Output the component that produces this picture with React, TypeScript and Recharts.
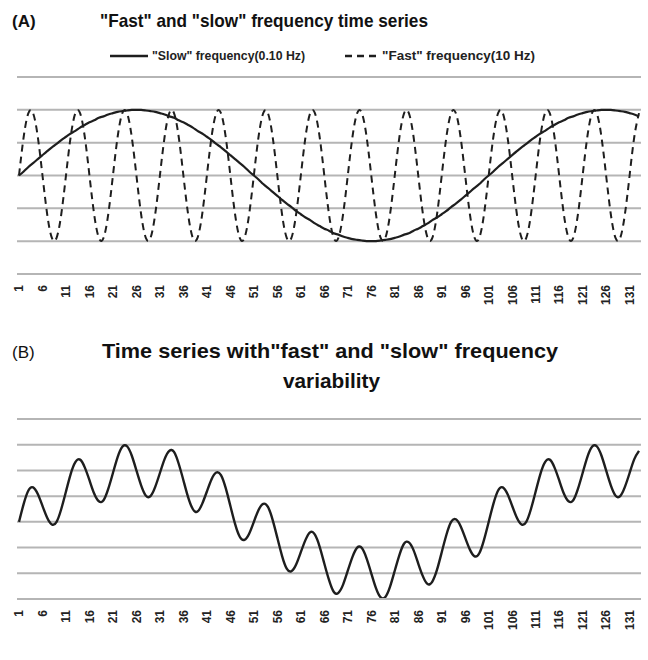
import { LineChart, Line, XAxis, YAxis, CartesianGrid } from "recharts";

// sample index shown on the x axis (1..133)
const samples = Array.from({ length: 133 }, (_, i) => i + 1);

// "slow" wave, one value per sample
const slowWave = [
  0, 0.06, 0.13, 0.19, 0.25, 0.31, 0.37, 0.43, 0.48, 0.54,
  0.59, 0.64, 0.68, 0.73, 0.77, 0.81, 0.84, 0.88, 0.9, 0.93,
  0.95, 0.97, 0.98, 0.99, 1, 1, 1, 0.99, 0.98, 0.97,
  0.95, 0.93, 0.9, 0.88, 0.84, 0.81, 0.77, 0.73, 0.68, 0.64,
  0.59, 0.54, 0.48, 0.43, 0.37, 0.31, 0.25, 0.19, 0.13, 0.06,
  0, -0.06, -0.13, -0.19, -0.25, -0.31, -0.37, -0.43, -0.48, -0.54,
  -0.59, -0.64, -0.68, -0.73, -0.77, -0.81, -0.84, -0.88, -0.9, -0.93,
  -0.95, -0.97, -0.98, -0.99, -1, -1, -1, -0.99, -0.98, -0.97,
  -0.95, -0.93, -0.9, -0.88, -0.84, -0.81, -0.77, -0.73, -0.68, -0.64,
  -0.59, -0.54, -0.48, -0.43, -0.37, -0.31, -0.25, -0.19, -0.13, -0.06,
  0, 0.06, 0.13, 0.19, 0.25, 0.31, 0.37, 0.43, 0.48, 0.54,
  0.59, 0.64, 0.68, 0.73, 0.77, 0.81, 0.84, 0.88, 0.9, 0.93,
  0.95, 0.97, 0.98, 0.99, 1, 1, 1, 0.99, 0.98, 0.97,
  0.95, 0.93, 0.9,
];

// "fast" wave
const fastWave = [
  0, 0.59, 0.95, 0.95, 0.59, 0, -0.59, -0.95, -0.95, -0.59,
  0, 0.59, 0.95, 0.95, 0.59, 0, -0.59, -0.95, -0.95, -0.59,
  0, 0.59, 0.95, 0.95, 0.59, 0, -0.59, -0.95, -0.95, -0.59,
  0, 0.59, 0.95, 0.95, 0.59, 0, -0.59, -0.95, -0.95, -0.59,
  0, 0.59, 0.95, 0.95, 0.59, 0, -0.59, -0.95, -0.95, -0.59,
  0, 0.59, 0.95, 0.95, 0.59, 0, -0.59, -0.95, -0.95, -0.59,
  0, 0.59, 0.95, 0.95, 0.59, 0, -0.59, -0.95, -0.95, -0.59,
  0, 0.59, 0.95, 0.95, 0.59, 0, -0.59, -0.95, -0.95, -0.59,
  0, 0.59, 0.95, 0.95, 0.59, 0, -0.59, -0.95, -0.95, -0.59,
  0, 0.59, 0.95, 0.95, 0.59, 0, -0.59, -0.95, -0.95, -0.59,
  0, 0.59, 0.95, 0.95, 0.59, 0, -0.59, -0.95, -0.95, -0.59,
  0, 0.59, 0.95, 0.95, 0.59, 0, -0.59, -0.95, -0.95, -0.59,
  0, 0.59, 0.95, 0.95, 0.59, 0, -0.59, -0.95, -0.95, -0.59,
  0, 0.59, 0.95,
];

// panel B: series with both frequencies
const mixedWave = [
  0, 0.35, 0.61, 0.67, 0.54, 0.31, 0.08, -0.05, 0, 0.25,
  0.59, 0.93, 1.16, 1.21, 1.06, 0.81, 0.55, 0.4, 0.42, 0.64,
  0.95, 1.26, 1.46, 1.47, 1.29, 1, 0.71, 0.51, 0.5, 0.68,
  0.95, 1.22, 1.38, 1.36, 1.13, 0.81, 0.48, 0.25, 0.2, 0.35,
  0.59, 0.83, 0.96, 0.91, 0.66, 0.31, -0.04, -0.29, -0.35, -0.23,
  0, 0.23, 0.35, 0.29, 0.04, -0.31, -0.66, -0.91, -0.96, -0.83,
  -0.59, -0.35, -0.2, -0.25, -0.48, -0.81, -1.13, -1.36, -1.38, -1.22,
  -0.95, -0.68, -0.5, -0.51, -0.71, -1, -1.29, -1.47, -1.46, -1.26,
  -0.95, -0.64, -0.42, -0.4, -0.55, -0.81, -1.06, -1.21, -1.16, -0.93,
  -0.59, -0.25, 0, 0.05, -0.08, -0.31, -0.54, -0.67, -0.61, -0.35,
  0, 0.35, 0.61, 0.67, 0.54, 0.31, 0.08, -0.05, 0, 0.25,
  0.59, 0.93, 1.16, 1.21, 1.06, 0.81, 0.55, 0.4, 0.42, 0.64,
  0.95, 1.26, 1.46, 1.47, 1.29, 1, 0.71, 0.51, 0.5, 0.68,
  0.95, 1.22, 1.38,
];

const ticksA = [-1.5, -1, -0.5, 0, 0.5, 1, 1.5];
const ticksB = [-1.5, -1, -0.5, 0, 0.5, 1, 1.5, 2];

const dataA = samples.map((s, i) => ({ t: s, slow: slowWave[i], fast: fastWave[i] }));
const dataB = samples.map((s, i) => ({ t: s, mixed: mixedWave[i] }));

const GRID = "#b5b5b5";
const INK = "#1e1e1e";
const NARROW = "'Liberation Sans Narrow', 'Arial Narrow', 'Liberation Sans', Arial, sans-serif";

const RotatedTick = (props: any) => {
  const { x, y, payload } = props;
  return (
    <g transform={`translate(${x},${y})`}>
      <text
        transform="rotate(-90)"
        textAnchor="end"
        dy="0.36em"
        fontSize={12}
        fontWeight="bold"
        fill="#222"
        fontFamily="'Liberation Sans', Arial, sans-serif"
      >
        {payload.value}
      </text>
    </g>
  );
};

const NoTick = () => <g />;

const App = () => {
  return (
    <div style={{ position: "absolute", left: 0, top: 0, width: 648, height: 660, background: "#fff" }}>
      <div style={{ position: "absolute", left: 0, top: 0 }}>
        <LineChart width={648} height={330} data={dataA} margin={{ top: 77, right: 7, bottom: 0, left: 17 }}>
          <CartesianGrid vertical={false} stroke={GRID} strokeWidth={2} horizontalValues={ticksA} />
          <XAxis
            dataKey="t"
            interval={4}
            height={56}
            padding={{ left: 2, right: 2 }}
            tickSize={0}
            tickMargin={11}
            tickLine={false}
            axisLine={{ stroke: GRID, strokeWidth: 2 }}
            tick={<RotatedTick />}
          />
          <YAxis width={0} domain={[-1.5, 1.5]} ticks={ticksA} tick={<NoTick />} axisLine={false} tickLine={false} />
          <Line type="natural" dataKey="slow" stroke={INK} strokeWidth={2.2} dot={false} isAnimationActive={false} />
          <Line
            type="natural"
            dataKey="fast"
            stroke={INK}
            strokeWidth={2}
            strokeDasharray="7 5"
            dot={false}
            isAnimationActive={false}
          />
        </LineChart>
      </div>
      <div style={{ position: "absolute", left: 0, top: 330 }}>
        <LineChart width={648} height={330} data={dataB} margin={{ top: 89, right: 7, bottom: 0, left: 17 }}>
          <CartesianGrid vertical={false} stroke={GRID} strokeWidth={2} horizontalValues={ticksB} />
          <XAxis
            dataKey="t"
            interval={4}
            height={61}
            padding={{ left: 2, right: 2 }}
            tickSize={0}
            tickMargin={11}
            tickLine={false}
            axisLine={{ stroke: GRID, strokeWidth: 2 }}
            tick={<RotatedTick />}
          />
          <YAxis width={0} domain={[-1.5, 2]} ticks={ticksB} tick={<NoTick />} axisLine={false} tickLine={false} />
          <Line type="natural" dataKey="mixed" stroke={INK} strokeWidth={2.4} dot={false} isAnimationActive={false} />
        </LineChart>
      </div>
      <svg
        width={648}
        height={660}
        style={{ position: "absolute", left: 0, top: 0, pointerEvents: "none" }}
      >
        <text x={12} y={27} fontSize={17} fontWeight="bold" fill="#111" fontFamily="'Liberation Sans', Arial, sans-serif">
          (A)
        </text>
        <text
          x={100}
          y={27}
          fontSize={19}
          fontWeight="bold"
          fill="#111"
          fontFamily={NARROW}
          textLength={328}
          lengthAdjust="spacingAndGlyphs"
        >
          "Fast" and "slow" frequency time series
        </text>

        <line x1={110} y1={56} x2={148} y2={56} stroke={INK} strokeWidth={2.5} />
        <text x={152} y={60} fontSize={12} fontWeight="bold" fill="#222" fontFamily={NARROW} textLength={153} lengthAdjust="spacingAndGlyphs">
          "Slow" frequency(0.10 Hz)
        </text>
        <line x1={345} y1={56} x2={378} y2={56} stroke={INK} strokeWidth={2.5} strokeDasharray="7 5" />
        <text x={382} y={60} fontSize={12} fontWeight="bold" fill="#222" fontFamily={NARROW} textLength={153} lengthAdjust="spacingAndGlyphs">
          "Fast" frequency(10 Hz)
        </text>

        <text x={12} y={358} fontSize={17} fill="#111" fontFamily="'Liberation Sans', Arial, sans-serif">
          (B)
        </text>
        <text
          x={102}
          y={358}
          fontSize={21}
          fontWeight="bold"
          fill="#111"
          fontFamily={NARROW}
          textLength={456}
          lengthAdjust="spacingAndGlyphs"
        >
          Time series with"fast" and "slow" frequency
        </text>
        <text
          x={283}
          y={388}
          fontSize={21}
          fontWeight="bold"
          fill="#111"
          fontFamily={NARROW}
          textLength={97}
          lengthAdjust="spacingAndGlyphs"
        >
          variability
        </text>
      </svg>
    </div>
  );
};

export default App;
